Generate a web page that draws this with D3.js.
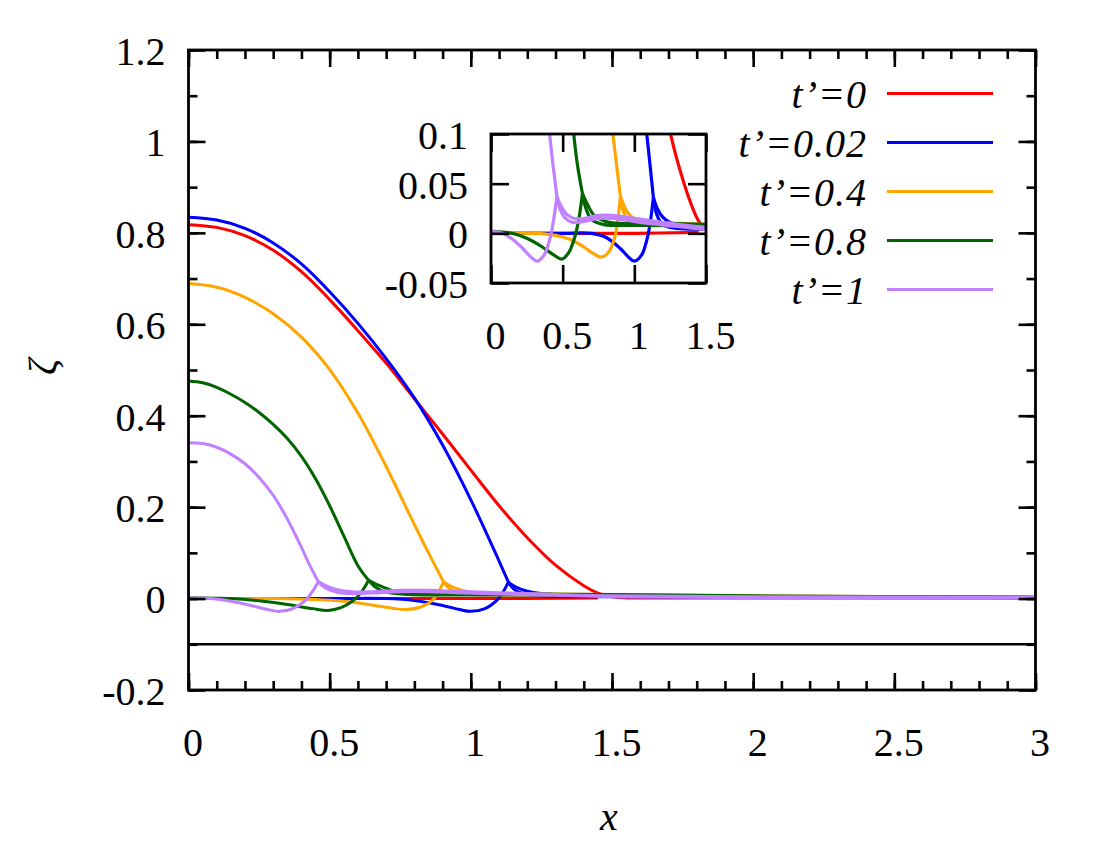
<!DOCTYPE html>
<html>
<head>
<meta charset="utf-8">
<script src="https://cdn.jsdelivr.net/npm/d3@7/dist/d3.min.js"></script>
<style>
  body { margin: 0; background: #fff; }
  text { font-family: "Liberation Serif", "Times New Roman", serif; }
</style>
</head>
<body>
<div class="canvas"></div>
<script>
// ---- data: [x, zeta] ----
const labels = ['t’=0', 't’=0.02', 't’=0.4', 't’=0.8', 't’=1'];
const colors = ['#ff0000', '#0000ff', '#ffa500', '#006400', '#c080ff'];

// t'=0
const t0Upper = [[0,0.818],[0.1,0.812],[0.2,0.794],[0.3,0.762],[0.4,0.715],[0.5,0.654],[0.6,0.586],[0.7,0.515],[0.8,0.437],[0.9,0.36],[1.0,0.281],[1.1,0.203],[1.2,0.133],[1.3,0.073],[1.4,0.028],[1.45,0.012],[1.5,0.004],[1.55,0.0015],[1.6,0.001],[2,0.001],[3,0.001]];
const t0Lower = [[0,0],[0.5,0],[1,0],[1.45,0.001]];

// t'=0.02
const t1Upper = [[0,0.834],[0.1,0.828],[0.2,0.81],[0.3,0.778],[0.4,0.732],[0.5,0.671],[0.6,0.602],[0.7,0.525],[0.8,0.439],[0.9,0.336],[1.0,0.216],[1.1,0.082],[1.133,0.036]];
const t1Lower = [[0,0],[0.5,0],[0.7,0],[0.8,-0.004],[0.9,-0.015],[0.96,-0.024],[1.0,-0.028],[1.05,-0.022],[1.09,-0.005],[1.11,0.01],[1.133,0.036]];
const t1TailA = [[1.133,0.036],[1.16,0.025],[1.2,0.016],[1.25,0.011],[1.3,0.009],[1.4,0.007],[1.5,0.006],[1.7,0.006],[2,0.005],[2.5,0.004],[3,0.003]];
const t1TailB = [[1.133,0.036],[1.15,0.022],[1.18,0.012],[1.22,0.007],[1.3,0.005],[1.5,0.004],[2,0.003],[3,0.002]];

// t'=0.4
const t2Upper = [[0,0.689],[0.1,0.681],[0.2,0.659],[0.3,0.623],[0.4,0.572],[0.5,0.501],[0.6,0.406],[0.7,0.289],[0.8,0.162],[0.85,0.1],[0.903,0.037]];
const t2Lower = [[0,0],[0.3,0],[0.45,-0.002],[0.55,-0.006],[0.65,-0.014],[0.72,-0.021],[0.77,-0.024],[0.82,-0.019],[0.86,-0.006],[0.88,0.008],[0.903,0.037]];
const t2TailA = [[0.903,0.037],[0.93,0.027],[0.97,0.018],[1.02,0.013],[1.1,0.011],[1.3,0.01],[1.5,0.009],[2,0.006],[3,0.003]];
const t2TailB = [[0.903,0.037],[0.92,0.024],[0.95,0.014],[1.0,0.009],[1.1,0.008],[1.5,0.007],[2,0.004],[3,0.002]];

// t'=0.8
const t3Upper = [[0,0.476],[0.05,0.472],[0.1,0.462],[0.15,0.447],[0.2,0.429],[0.25,0.407],[0.3,0.381],[0.35,0.35],[0.4,0.311],[0.45,0.262],[0.5,0.203],[0.55,0.137],[0.6,0.072],[0.638,0.04]];
const t3Lower = [[0,0.002],[0.15,0],[0.25,-0.005],[0.35,-0.013],[0.44,-0.022],[0.494,-0.026],[0.54,-0.02],[0.58,-0.006],[0.61,0.012],[0.638,0.04]];
const t3TailA = [[0.638,0.04],[0.67,0.03],[0.72,0.018],[0.8,0.012],[0.9,0.01],[1.0,0.01],[1.2,0.01],[1.5,0.009],[2,0.006],[3,0.003]];
const t3TailB = [[0.638,0.04],[0.66,0.026],[0.7,0.014],[0.78,0.009],[0.9,0.008],[1.2,0.008],[1.5,0.007],[2,0.004],[3,0.002]];

// t'=1
const t4Upper = [[0,0.341],[0.05,0.339],[0.1,0.331],[0.15,0.316],[0.2,0.295],[0.25,0.265],[0.3,0.226],[0.35,0.174],[0.4,0.112],[0.43,0.072],[0.46,0.037]];
const t4Lower = [[0,0.002],[0.08,0],[0.15,-0.006],[0.22,-0.015],[0.28,-0.024],[0.324,-0.028],[0.37,-0.022],[0.41,-0.006],[0.435,0.012],[0.46,0.037]];
const t4TailA = [[0.46,0.037],[0.49,0.027],[0.53,0.019],[0.58,0.015],[0.65,0.015],[0.75,0.018],[0.85,0.018],[0.95,0.016],[1.1,0.013],[1.3,0.009],[1.5,0.006],[2,0.004],[3,0.003]];
const t4TailB = [[0.46,0.037],[0.48,0.025],[0.52,0.015],[0.57,0.011],[0.65,0.012],[0.75,0.015],[0.85,0.015],[0.95,0.013],[1.1,0.01],[1.3,0.007],[1.5,0.004],[2,0.002],[3,0.001]];

const seriesParts = [
    [t0Upper, t0Lower],
    [t1Upper, t1Lower, t1TailA, t1TailB],
    [t2Upper, t2Lower, t2TailA, t2TailB],
    [t3Upper, t3Lower, t3TailA, t3TailB],
    [t4Upper, t4Lower, t4TailA, t4TailB]
];

// ticks
const xMajor = [0, 0.5, 1, 1.5, 2, 2.5, 3];
const xMinor = d3.range(0, 30.5, 1).map(d => d / 10);
const yMajor = [-0.2, 0, 0.2, 0.4, 0.6, 0.8, 1, 1.2];
const yMinor = d3.range(-2, 12.5, 1).map(d => d / 10);
const insetXTicks = [0, 0.5, 1, 1.5];
const insetYTicks = [-0.05, 0, 0.05, 0.1];
const baseLine = -0.1;

const svg = d3.select('.canvas')
    .append('svg')
    .attr('width', 1100)
    .attr('height', 850)
    .style('background', '#fff');

// main plot box
const plot = { left: 188.5, right: 1035.5, top: 50, bottom: 690 };

const x = d3.scaleLinear().domain([0, 3]).range([plot.left, plot.right]);
const y = d3.scaleLinear().domain([-0.2, 1.2]).range([plot.bottom, plot.top]);

const line = (xs, ys) => d3.line()
    .x(d => xs(d[0]))
    .y(d => ys(d[1]))
    .curve(d3.curveCatmullRom.alpha(0.5));

const defs = svg.append('defs');
defs.append('clipPath').attr('id', 'mainClip')
    .append('rect')
    .attr('x', plot.left).attr('y', plot.top)
    .attr('width', plot.right - plot.left).attr('height', plot.bottom - plot.top);

// draws the curves for all series
function drawCurves(g, xs, ys, width) {
    seriesParts.forEach((parts, i) => {
        g.selectAll(null)
            .data(parts)
            .enter()
            .append('path')
            .attr('d', line(xs, ys))
            .attr('fill', 'none')
            .attr('stroke', colors[i])
            .attr('stroke-width', width)
            .attr('stroke-linejoin', 'round');
    });
}

// inward ticks on all four sides + frame
function drawFrame(g, xs, ys, box, opts) {
    const fmt = d => String(d);
    const fs = '40px';

    const bottom = g.append('g').attr('transform', `translate(0, ${box.bottom})`)
        .call(d3.axisBottom(xs).tickValues(opts.xMajor).tickSizeInner(-opts.major).tickSizeOuter(0).tickPadding(0).tickFormat(fmt));
    bottom.selectAll('text').attr('y', 66).attr('dy', 0).attr('dx', 4).style('font-size', fs);

    const top = g.append('g').attr('transform', `translate(0, ${box.top})`)
        .call(d3.axisTop(xs).tickValues(opts.xMajor).tickSizeInner(-opts.major).tickSizeOuter(0).tickFormat(''));

    const left = g.append('g').attr('transform', `translate(${box.left}, 0)`)
        .call(d3.axisLeft(ys).tickValues(opts.yMajor).tickSizeInner(-opts.major).tickSizeOuter(0).tickPadding(23).tickFormat(fmt));
    left.selectAll('text').attr('dy', '0.36em').style('font-size', fs);

    const right = g.append('g').attr('transform', `translate(${box.right}, 0)`)
        .call(d3.axisRight(ys).tickValues(opts.yMajor).tickSizeInner(-opts.major).tickSizeOuter(0).tickFormat(''));

    const axes = [bottom, top, left, right];

    if (opts.xMinor) {
        axes.push(g.append('g').attr('transform', `translate(0, ${box.bottom})`)
            .call(d3.axisBottom(xs).tickValues(opts.xMinor).tickSizeInner(-opts.minor).tickSizeOuter(0).tickFormat('')));
        axes.push(g.append('g').attr('transform', `translate(0, ${box.top})`)
            .call(d3.axisTop(xs).tickValues(opts.xMinor).tickSizeInner(-opts.minor).tickSizeOuter(0).tickFormat('')));
        axes.push(g.append('g').attr('transform', `translate(${box.left}, 0)`)
            .call(d3.axisLeft(ys).tickValues(opts.yMinor).tickSizeInner(-opts.minor).tickSizeOuter(0).tickFormat('')));
        axes.push(g.append('g').attr('transform', `translate(${box.right}, 0)`)
            .call(d3.axisRight(ys).tickValues(opts.yMinor).tickSizeInner(-opts.minor).tickSizeOuter(0).tickFormat('')));
    }

    axes.forEach(a => {
        a.select('.domain').remove();
        a.selectAll('line').attr('stroke', '#000').attr('stroke-width', 2.6);
        a.selectAll('text').attr('fill', '#000').attr('font-family', null);
    });

    g.append('rect')
        .attr('x', box.left).attr('y', box.top)
        .attr('width', box.right - box.left).attr('height', box.bottom - box.top)
        .attr('fill', 'none').attr('stroke', '#000').attr('stroke-width', 2.8);
}

// ---- main chart ----
const mainCurves = svg.append('g').attr('clip-path', 'url(#mainClip)');

mainCurves.append('line')
    .attr('x1', x(0)).attr('x2', x(3))
    .attr('y1', y(baseLine)).attr('y2', y(baseLine))
    .attr('stroke', '#000').attr('stroke-width', 2.6);

drawCurves(mainCurves, x, y, 3);

drawFrame(svg.append('g'), x, y, plot, {
    xMajor: xMajor, xMinor: xMinor, yMajor: yMajor, yMinor: yMinor, major: 17, minor: 9
});

// axis titles
svg.append('text')
    .attr('x', 609).attr('y', 830)
    .attr('text-anchor', 'middle')
    .style('font-size', '40px').style('font-style', 'italic')
    .text('x');

svg.append('text')
    .attr('transform', 'translate(56, 367) rotate(-90)')
    .attr('text-anchor', 'middle')
    .style('font-size', '40px').style('font-style', 'italic')
    .text('ζ');

// ---- legend ----
const legend = svg.append('g');
labels.forEach((lab, i) => {
    const ly = 93.5 + i * 49;
    legend.append('text')
        .attr('x', 867).attr('y', ly + 14)
        .attr('text-anchor', 'end')
        .style('font-size', '40px').style('font-style', 'italic')
        .style('letter-spacing', '1px')
        .text(lab);
    legend.append('line')
        .attr('x1', 887).attr('x2', 993)
        .attr('y1', ly).attr('y2', ly)
        .attr('stroke', colors[i]).attr('stroke-width', 3);
});

// ---- inset ----
const inset = { left: 491, right: 706, top: 134, bottom: 283 };
const ix = d3.scaleLinear().domain([0, 1.5]).range([inset.left, inset.right]);
const iy = d3.scaleLinear().domain([-0.05, 0.1]).range([inset.bottom, inset.top]);

defs.append('clipPath').attr('id', 'insetClip')
    .append('rect')
    .attr('x', inset.left).attr('y', inset.top)
    .attr('width', inset.right - inset.left).attr('height', inset.bottom - inset.top);

svg.append('rect')
    .attr('x', inset.left).attr('y', inset.top)
    .attr('width', inset.right - inset.left).attr('height', inset.bottom - inset.top)
    .attr('fill', '#fff');

const insetCurves = svg.append('g').attr('clip-path', 'url(#insetClip)');
drawCurves(insetCurves, ix, iy, 3.2);

drawFrame(svg.append('g'), ix, iy, inset, {
    xMajor: insetXTicks, yMajor: insetYTicks, major: 18
});
</script>
</body>
</html>
